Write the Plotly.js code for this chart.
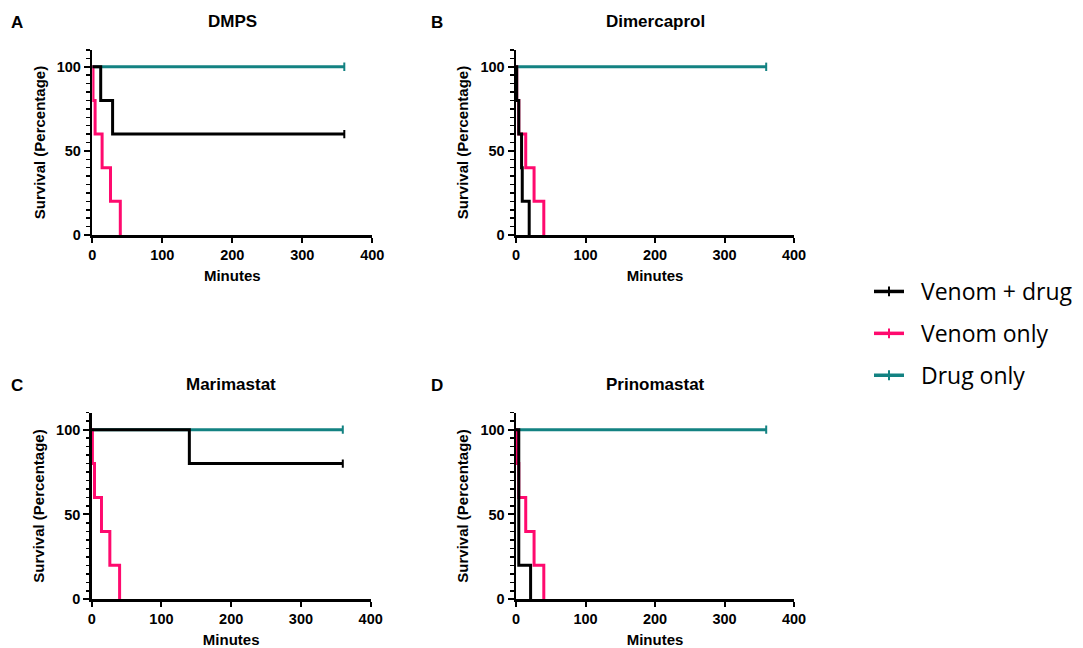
<!DOCTYPE html>
<html>
<head>
<meta charset="utf-8">
<script src="https://cdn.plot.ly/plotly-3.0.1.min.js"></script>
<style>html,body{margin:0;padding:0;background:#fff;}#chart{width:1083px;height:648px;}</style>
</head>
<body>
<div id="chart"></div>
<script>
// ---- data ----
const panelTitles = ['DMPS', 'Dimercaprol', 'Marimastat', 'Prinomastat'];
const panelLetters = ['A', 'B', 'C', 'D'];
const seriesNames = ['Venom + drug', 'Venom only', 'Drug only'];
const xTickVals = [0, 100, 200, 300, 400];
const yTickVals = [0, 50, 100];

// Venom only (same group in each panel)
const venomOnlyTime = [0, 1, 4, 14, 26, 40];
const venomOnlySurv = [100, 80, 60, 40, 20, 0];
// Drug only
const drugOnlyTime = [0, 360];
const drugOnlySurv = [100, 100];
// Venom + drug per panel
const dmpsTime = [0, 12, 29, 360];
const dmpsSurv = [100, 80, 60, 60];
const dimercaprolTime = [0, 1, 4, 8, 9, 19];
const dimercaprolSurv = [100, 80, 60, 40, 20, 0];
const marimastatTime = [0, 140, 360];
const marimastatSurv = [100, 80, 80];
const prinomastatTime = [0, 4, 21];
const prinomastatSurv = [100, 20, 0];

const venomDrugTimes = [dmpsTime, dimercaprolTime, marimastatTime, prinomastatTime];
const venomDrugSurvs = [dmpsSurv, dimercaprolSurv, marimastatSurv, prinomastatSurv];

// ---- styling ----
const colors = ['#000000', '#ff0a6e', '#138282'];
const W = 1083, H = 648;
const xDom = [[92.3, 372.3], [516, 794], [91.7, 370.7], [516, 794]];
const yDom = [[50, 235], [50, 235], [412.7, 599.3], [412.7, 599.3]];
const titleY = [21, 21, 384, 384];
const letterX = [17, 437, 17, 437];

const traces = [];
const layout = {
  width: W, height: H,
  margin: {l: 0, r: 0, t: 0, b: 0},
  paper_bgcolor: '#fff', plot_bgcolor: '#fff',
  font: {family: 'Liberation Sans, Arial, sans-serif', color: '#000'},
  showlegend: true,
  legend: {
    x: 869 / W, xanchor: 'left', y: 1 - 270 / H, yanchor: 'top',
    font: {family: 'Open Sans, sans-serif', size: 23, color: '#000'},
    tracegroupgap: 9, bgcolor: 'rgba(0,0,0,0)'
  },
  annotations: []
};

function addStep(i, t, s, color, name) {
  const ax = i === 0 ? '' : String(i + 1);
  traces.push({
    x: t, y: s, type: 'scatter', mode: 'lines', name: name,
    line: {color: color, width: 3, shape: 'hv'},
    xaxis: 'x' + ax, yaxis: 'y' + ax, showlegend: false, hoverinfo: 'skip'
  });
  const last = t.length - 1;
  if (s[last] > 0) {
    traces.push({
      x: [t[last]], y: [s[last]], type: 'scatter', mode: 'markers',
      marker: {symbol: 'line-ns', size: 6, line: {color: color, width: 2}},
      xaxis: 'x' + ax, yaxis: 'y' + ax, showlegend: false, hoverinfo: 'skip'
    });
  }
}

for (let i = 0; i < 4; i++) {
  addStep(i, drugOnlyTime, drugOnlySurv, colors[2], seriesNames[2]);
  addStep(i, venomOnlyTime, venomOnlySurv, colors[1], seriesNames[1]);
  addStep(i, venomDrugTimes[i], venomDrugSurvs[i], colors[0], seriesNames[0]);

  const ax = i === 0 ? '' : String(i + 1);
  layout['xaxis' + ax] = {
    domain: [xDom[i][0] / W, xDom[i][1] / W],
    anchor: 'y' + ax,
    range: [0, 400], tickvals: xTickVals, ticktext: xTickVals.map(String),
    showline: true, linecolor: '#000', linewidth: 2.5,
    ticks: 'outside', ticklen: 5, tickwidth: 2, tickcolor: '#000',
    showgrid: false, zeroline: false,
    tickfont: {size: 14.5, family: 'Liberation Sans, Arial, sans-serif', weight: 'bold', color: '#000'},
    title: {text: '<b>Minutes</b>', font: {size: 15, color: '#000'}, standoff: 9},
    fixedrange: true
  };
  layout['yaxis' + ax] = {
    domain: [1 - yDom[i][1] / H, 1 - yDom[i][0] / H],
    anchor: 'x' + ax,
    range: [0, 110], tickvals: yTickVals, ticktext: yTickVals.map(String),
    showline: true, linecolor: '#000', linewidth: 2.5,
    ticks: 'outside', ticklen: 6, tickwidth: 2, tickcolor: '#000',
    minor: {dtick: 5, tick0: 0, ticks: 'outside', ticklen: 3.5, tickwidth: 1.5, tickcolor: '#000', showgrid: false},
    showgrid: false, zeroline: false,
    tickfont: {size: 14.5, family: 'Liberation Sans, Arial, sans-serif', weight: 'bold', color: '#000'},
    title: {text: '<b>Survival (Percentage)</b>', font: {size: 15, color: '#000'}, standoff: 8},
    fixedrange: true
  };
  layout.annotations.push({
    text: '<b>' + panelTitles[i] + '</b>', xref: 'paper', yref: 'paper',
    x: (xDom[i][0] + xDom[i][1]) / 2 / W, y: 1 - titleY[i] / H,
    xanchor: 'center', yanchor: 'middle', showarrow: false,
    font: {size: 17, color: '#000'}
  });
  layout.annotations.push({
    text: '<b>' + panelLetters[i] + '</b>', xref: 'paper', yref: 'paper',
    x: letterX[i] / W, y: 1 - (titleY[i] + 1) / H,
    xanchor: 'center', yanchor: 'middle', showarrow: false,
    font: {size: 17, color: '#000'}
  });
}

// legend entries
for (let k = 0; k < 3; k++) {
  traces.push({
    x: [null], y: [null], type: 'scatter', mode: 'lines+markers',
    name: '&nbsp;&nbsp;' + seriesNames[k],
    legendgroup: 'g' + k,
    line: {color: colors[k], width: 3.5},
    marker: {symbol: 'line-ns', size: 7, line: {color: colors[k], width: 2}},
    xaxis: 'x', yaxis: 'y', showlegend: true, hoverinfo: 'skip'
  });
}

Plotly.newPlot('chart', traces, layout, {staticPlot: true, displayModeBar: false});
</script>
</body>
</html>
